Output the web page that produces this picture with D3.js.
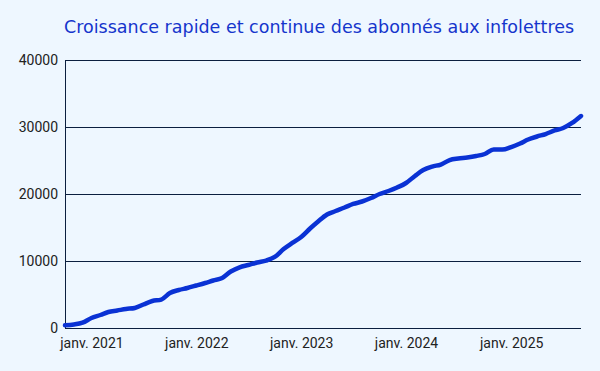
<!DOCTYPE html>
<html lang="fr">
  <head>
    <title>Abonnés infolettres</title>
    <meta charset="utf-8" />
    <script src="https://d3js.org/d3.v7.min.js"></script>
    <style>
      body { margin: 0; background: #eef7ff; }
    </style>
  </head>
  <body>
    <svg width="600" height="371" xmlns="http://www.w3.org/2000/svg" id="target"></svg>
    <script>
        // mensuel, oct. 2020 -> sept. 2025
        const startMonth = new Date(2020, 9, 1);
        const subscribers = [
          400, 520, 790, 1490, 1940, 2390, 2610, 2840, 2990, 3510, 4030, 4250,
          5220, 5670, 5970, 6340, 6720, 7090, 7460, 8430, 9060, 9400, 9780, 10070,
          10600, 11790, 12690, 13580, 14850, 15900, 16940, 17460, 17980, 18510, 18880, 19400,
          20000, 20450, 20970, 21640, 22690, 23580, 24100, 24400, 25070, 25300, 25450, 25670,
          25970, 26640, 26640, 27010, 27540, 28130, 28580, 28950, 29480, 29850, 30600, 31640
        ];
        const yTicks = [0, 10000, 20000, 30000, 40000];
        const xTickYears = [2021, 2022, 2023, 2024, 2025];
        const title = "Croissance rapide et continue des abonnés aux infolettres";

        const months = ["janv.", "févr.", "mars", "avr.", "mai", "juin", "juil.", "août", "sept.", "oct.", "nov.", "déc."];
        const data = subscribers.map((v, i) => ({
          date: new Date(startMonth.getFullYear(), startMonth.getMonth() + i, 1),
          value: v
        }));

        const margin = {top: 60, right: 19, bottom: 43, left: 65};
        const width = 600, height = 371;

        const svg = d3.select("#target");
        svg.append("rect")
          .attr("width", width).attr("height", height)
          .attr("fill", "#eef7ff");

        const x = d3.scaleTime()
          .domain(d3.extent(data, d => d.date))
          .range([margin.left, width - margin.right]);
        const y = d3.scaleLinear()
          .domain([0, 40000])
          .range([height - margin.bottom, margin.top]);

        // grille
        const yAxis = svg.append("g")
          .attr("transform", `translate(${margin.left},0)`)
          .call(d3.axisLeft(y).tickValues(yTicks).tickSize(0).tickPadding(7)
            .tickFormat(d3.format("d")));
        yAxis.select(".domain").attr("stroke", "#0b1f3f").attr("stroke-width", 1);
        yAxis.selectAll(".tick line").remove();
        yAxis.selectAll(".tick").append("line")
          .attr("x2", width - margin.right - margin.left)
          .attr("stroke", "#0b1f3f")
          .attr("stroke-width", 1);
        yAxis.selectAll("text")
          .attr("font-family", "Roboto")
          .attr("font-size", 14)
          .attr("fill", "#222");

        const xAxis = svg.append("g")
          .attr("transform", `translate(0,${height - margin.bottom})`)
          .call(d3.axisBottom(x)
            .tickValues(xTickYears.map(yr => new Date(yr, 0, 1)))
            .tickSize(0).tickPadding(10)
            .tickFormat(d => months[d.getMonth()] + " " + d.getFullYear()));
        xAxis.select(".domain").remove();
        xAxis.selectAll("text")
          .attr("font-family", "Roboto")
          .attr("font-size", 14)
          .attr("fill", "#222");

        const line = d3.line()
          .x(d => x(d.date))
          .y(d => y(d.value))
          .curve(d3.curveMonotoneX);

        svg.append("path")
          .datum(data)
          .attr("d", line)
          .attr("fill", "none")
          .attr("stroke", "#0a32d4")
          .attr("stroke-width", 4.5)
          .attr("stroke-linejoin", "round")
          .attr("stroke-linecap", "round");

        svg.append("text")
          .attr("x", 64)
          .attr("y", 33)
          .attr("font-family", "DejaVu Sans")
          .attr("font-size", 17.5)
          .attr("fill", "#1535cc")
          .text(title);
    </script>
  </body>
</html>
